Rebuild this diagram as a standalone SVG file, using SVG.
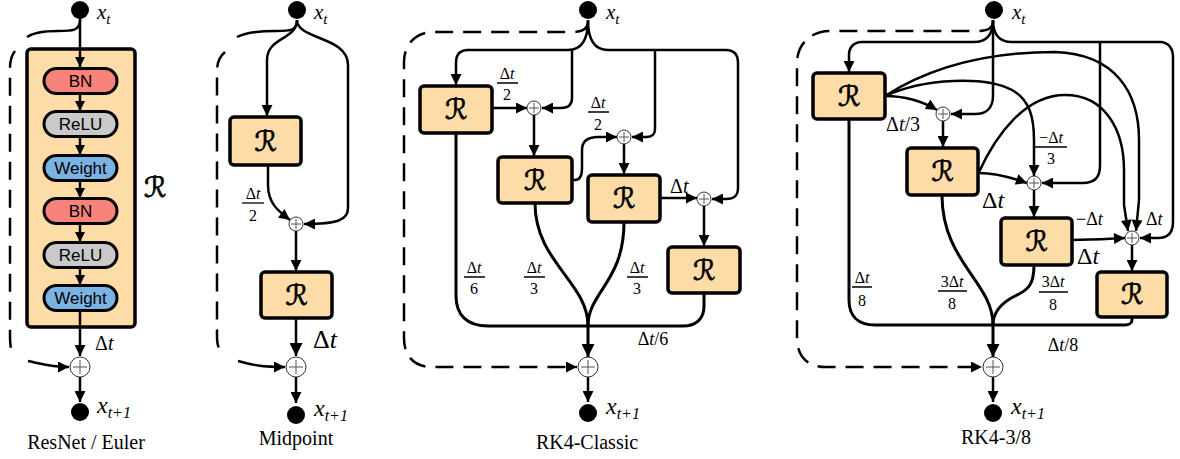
<svg xmlns="http://www.w3.org/2000/svg" width="1180" height="459" viewBox="0 0 1180 459">
<defs>
<marker id="a" viewBox="0 0 10 10" refX="10" refY="5" markerUnits="userSpaceOnUse" markerWidth="13" markerHeight="11" orient="auto"><path d="M0,0L10,5L0,10z" fill="#000"/></marker>
<marker id="ab" viewBox="0 0 10 10" refX="10" refY="5" markerUnits="userSpaceOnUse" markerWidth="16" markerHeight="13" orient="auto"><path d="M0,0L10,5L0,10z" fill="#000"/></marker>
<marker id="as" viewBox="0 0 10 10" refX="10" refY="5" markerUnits="userSpaceOnUse" markerWidth="11" markerHeight="10" orient="auto"><path d="M0,0L10,5L0,10z" fill="#000"/></marker>
</defs>
<style>
.c{fill:none;stroke:#000;stroke-width:2.5}
.t{fill:none;stroke:#000;stroke-width:3}
.d{fill:none;stroke:#000;stroke-width:2.5;stroke-dasharray:18 10}
.box{fill:#FDDCA8;stroke:#000;stroke-width:3.5}
.pill{stroke:#000;stroke-width:3}
.bn{fill:#F8837A}
.relu{fill:#C9C9C9}
.wt{fill:#7AB3E3}
.pl{fill:#fff;stroke:#333;stroke-width:1}
.pp{stroke:#555;stroke-width:1}
.dot{fill:#000}
.s{font-family:"Liberation Sans",Arial,sans-serif;font-size:17px;text-anchor:middle}
.m{font-family:"Liberation Serif","Times New Roman",serif;fill:#000}
.i{font-style:italic}
.cal{font-family:"DejaVu Sans",serif;font-size:28px;text-anchor:middle;stroke:#000;stroke-width:0.7}
.ttl{font-family:"Liberation Serif","Times New Roman",serif;font-size:20px;text-anchor:middle}
</style>

<!-- ================= Panel 1: ResNet / Euler ================= -->
<g id="p1-R">
<rect class="box" x="27" y="49" width="108" height="278" rx="4"/>
</g>
<g id="p1-connectors">
<path class="c" d="M80,20 C80,31 72,31 58,31 C42,31 33,33 27,37"/>
<path class="d" d="M15,51 C11,56 10,60 10,68 V335 C10,346 11,351 14,356"/>
<path class="c" d="M28,361 C42,364 52,367 69,367" marker-end="url(#a)"/>
<path class="c" d="M80,18 V67" marker-end="url(#as)"/>
<path class="c" d="M80,93 V111" marker-end="url(#as)"/>
<path class="c" d="M80,136 V155" marker-end="url(#as)"/>
<path class="c" d="M80,180 V198" marker-end="url(#as)"/>
<path class="c" d="M80,223 V242" marker-end="url(#as)"/>
<path class="c" d="M80,267 V285" marker-end="url(#as)"/>
<path class="c" d="M80,310 V356" marker-end="url(#a)"/>
<path class="c" d="M80,377 V402" marker-end="url(#a)"/>
</g>
<g id="p1-bn1"><rect class="pill bn" x="44" y="68.5" width="73" height="25" rx="12.5"/><text class="s" x="80.5" y="87">BN</text></g>
<g id="p1-relu1"><rect class="pill relu" x="44" y="111.5" width="73" height="25" rx="12.5"/><text class="s" x="80.5" y="130">ReLU</text></g>
<g id="p1-w1"><rect class="pill wt" x="44" y="155.5" width="73" height="25" rx="12.5"/><text class="s" x="80.5" y="174">Weight</text></g>
<g id="p1-bn2"><rect class="pill bn" x="44" y="198.5" width="73" height="25" rx="12.5"/><text class="s" x="80.5" y="217">BN</text></g>
<g id="p1-relu2"><rect class="pill relu" x="44" y="242.5" width="73" height="25" rx="12.5"/><text class="s" x="80.5" y="261">ReLU</text></g>
<g id="p1-w2"><rect class="pill wt" x="44" y="285.5" width="73" height="25" rx="12.5"/><text class="s" x="80.5" y="304">Weight</text></g>
<g id="p1-in"><circle class="dot" cx="80" cy="10" r="9"/><text class="m i" x="97" y="19" font-size="21">x<tspan font-size="15" dy="5">t</tspan></text></g>
<g id="p1-sum"><circle class="pl" cx="80" cy="367" r="10"/><path class="pp" d="M73,367H87M80,360V374"/></g>
<g id="p1-out"><circle class="dot" cx="80" cy="412" r="9"/><text class="m i" x="97" y="413" font-size="24">x<tspan font-size="16" dy="5">t+1</tspan></text></g>
<text class="cal" x="155" y="197" font-size="30">ℛ</text>
<text class="m" x="95" y="350" font-size="20">Δ<tspan class="i">t</tspan></text>
<text class="ttl" x="86" y="449">ResNet / Euler</text>

<!-- ================= Panel 2: Midpoint ================= -->
<g id="p2-connectors">
<path class="c" d="M297,20 C297,31 290,31 276,31 C256,31 245,33 237,37"/>
<path class="d" d="M225,52 C219,57 217,62 217,72 V335 C217,344 218,348 221,350"/>
<path class="c" d="M238,361 C252,365 262,367 285,367" marker-end="url(#a)"/>
<path class="c" d="M297,20 C297,40 267,37 267,60 V116" marker-end="url(#a)"/>
<path class="c" d="M297,20 C297,40 348,36 348,65 V208 C348,220 338,224 304,224" marker-end="url(#a)"/>
<path class="c" d="M268,165 V185 C268,203 278,211 290,220" marker-end="url(#a)"/>
<path class="c" d="M296,231 V271" marker-end="url(#a)"/>
<path class="c" d="M296,318 V356" marker-end="url(#ab)"/>
<path class="c" d="M296,377 V403" marker-end="url(#a)"/>
</g>
<g id="p2-r1"><rect class="box" x="230" y="117" width="71" height="48" rx="4"/><text class="cal" x="265.5" y="151">ℛ</text></g>
<g id="p2-r2"><rect class="box" x="261" y="272" width="71" height="46" rx="4"/><text class="cal" x="296.5" y="305">ℛ</text></g>
<g id="p2-p1"><circle class="pl" cx="296" cy="224" r="7"/><path class="pp" d="M291,224H301M296,219V229"/></g>
<g id="p2-in"><circle class="dot" cx="297" cy="10" r="9"/><text class="m i" x="314" y="19" font-size="21">x<tspan font-size="15" dy="5">t</tspan></text></g>
<g id="p2-sum"><circle class="pl" cx="296" cy="367" r="10"/><path class="pp" d="M289,367H303M296,360V374"/></g>
<g id="p2-out"><circle class="dot" cx="296" cy="415" r="9"/><text class="m i" x="314" y="416" font-size="24">x<tspan font-size="16" dy="5">t+1</tspan></text></g>
<text class="m" x="253" y="199" font-size="16" text-anchor="middle">Δ<tspan class="i">t</tspan></text>
<path d="M242,203H264" stroke="#000" stroke-width="1.3"/>
<text class="m" x="253" y="221" font-size="16" text-anchor="middle">2</text>
<text class="m" x="313" y="348" font-size="26">Δ<tspan class="i">t</tspan></text>
<text class="ttl" x="296" y="445">Midpoint</text>

<!-- ================= Panel 3: RK4-Classic ================= -->
<g id="p3-connectors">
<path class="d" d="M588,22 C588,29 582,32 572,32 H434 C416,32 404,44 404,62 V338 C404,356 414,367 432,367 H577" marker-end="url(#a)"/>
<path class="c" d="M588,20 C588,42 580,50 568,50 H468 C460,50 456,55 456,63 V85" marker-end="url(#a)"/>
<path class="c" d="M572,50 V98 C572,105 568,108 561,108 H542" marker-end="url(#a)"/>
<path class="c" d="M588,20 C588,42 596,50 608,50 H726 C734,50 738,55 738,63 V188 C738,196 734,199 726,199 H712" marker-end="url(#a)"/>
<path class="c" d="M655,50 V129 C655,134 652,137 647,137 H632" marker-end="url(#a)"/>
<path class="c" d="M492,108 H527" marker-end="url(#a)"/>
<path class="c" d="M534,115 V156" marker-end="url(#a)"/>
<path class="c" d="M572,180 H575 C580,180 582,176 582,168 V150 C582,141 588,137 598,137 H617" marker-end="url(#a)"/>
<path class="c" d="M624,144 V174" marker-end="url(#a)"/>
<path class="c" d="M660,198 H697" marker-end="url(#a)"/>
<path class="c" d="M704,206 V246" marker-end="url(#a)"/>
<path class="t" d="M456,133 V296 C456,315 467,326 488,326 H588"/>
<path class="t" d="M535,203 C535,262 588,282 588,326"/>
<path class="t" d="M624,222 C624,282 588,292 588,326"/>
<path class="t" d="M704,293 V306 C704,319 696,326 683,326 H588"/>
<path class="t" d="M588,324 V357" marker-end="url(#ab)"/>
<path class="c" d="M588,377 V402" marker-end="url(#a)"/>
</g>
<g id="p3-r1"><rect class="box" x="420" y="86" width="72" height="47" rx="4"/><text class="cal" x="456" y="119">ℛ</text></g>
<g id="p3-r2"><rect class="box" x="498" y="157" width="74" height="46" rx="4"/><text class="cal" x="535" y="190">ℛ</text></g>
<g id="p3-r3"><rect class="box" x="588" y="175" width="72" height="47" rx="4"/><text class="cal" x="624" y="208">ℛ</text></g>
<g id="p3-r4"><rect class="box" x="668" y="247" width="72" height="46" rx="4"/><text class="cal" x="704" y="280">ℛ</text></g>
<g id="p3-p1"><circle class="pl" cx="534" cy="108" r="7"/><path class="pp" d="M529,108H539M534,103V113"/></g>
<g id="p3-p2"><circle class="pl" cx="624" cy="137" r="7"/><path class="pp" d="M619,137H629M624,132V142"/></g>
<g id="p3-p3"><circle class="pl" cx="704" cy="199" r="7"/><path class="pp" d="M699,199H709M704,194V204"/></g>
<g id="p3-in"><circle class="dot" cx="588" cy="10" r="9"/><text class="m i" x="606" y="19" font-size="21">x<tspan font-size="15" dy="5">t</tspan></text></g>
<g id="p3-sum"><circle class="pl" cx="588" cy="367" r="10"/><path class="pp" d="M581,367H595M588,360V374"/></g>
<g id="p3-out"><circle class="dot" cx="588" cy="413" r="9"/><text class="m i" x="606" y="414" font-size="24">x<tspan font-size="16" dy="5">t+1</tspan></text></g>
<g class="m" font-size="16" text-anchor="middle">
<text x="507" y="79">Δ<tspan class="i">t</tspan></text><text x="507" y="100">2</text>
<text x="598" y="108">Δ<tspan class="i">t</tspan></text><text x="598" y="130">2</text>
<text x="474" y="273">Δ<tspan class="i">t</tspan></text><text x="474" y="294">6</text>
<text x="534" y="273">Δ<tspan class="i">t</tspan></text><text x="534" y="294">3</text>
<text x="637" y="273">Δ<tspan class="i">t</tspan></text><text x="637" y="294">3</text>
</g>
<path d="M497,83H518M588,112H609M464,277H485M524,277H545M627,277H648" stroke="#000" stroke-width="1.3"/>
<text class="m" x="670" y="193" font-size="20">Δ<tspan class="i">t</tspan></text>
<text class="m" x="653" y="345" font-size="18" text-anchor="middle">Δ<tspan class="i">t</tspan>/6</text>
<text class="ttl" x="587" y="449">RK4-Classic</text>

<!-- ================= Panel 4: RK4-3/8 ================= -->
<g id="p4-connectors">
<path class="d" d="M993,22 C993,28 987,31 978,31 H830 C811,31 797,44 797,63 V338 C797,356 807,367 826,367 H982" marker-end="url(#a)"/>
<path class="c" d="M993,20 C993,36 985,42 974,42 H862 C854,42 849,47 849,55 V72" marker-end="url(#a)"/>
<path class="c" d="M993,20 V96 C993,108 986,114 975,114 H951" marker-end="url(#a)"/>
<path class="c" d="M993,20 C993,36 1001,42 1012,42 H1160 C1168,42 1173,48 1173,57 V222 C1173,233 1168,238 1158,238 H1140" marker-end="url(#a)"/>
<path class="c" d="M1100,42 V166 C1100,178 1094,183 1083,183 H1042" marker-end="url(#a)"/>
<path class="c" d="M885,96 C905,96 922,101 937,110" marker-end="url(#a)"/>
<path class="c" d="M943,121 V147" marker-end="url(#a)"/>
<path class="c" d="M885,96 C925,78 985,76 1012,90 C1030,100 1034,118 1034,140 V176" marker-end="url(#a)"/>
<path class="c" d="M885,96 C935,64 995,52 1055,52 C1115,54 1139,92 1139,140 V200 L1136,231" marker-end="url(#a)"/>
<path class="c" d="M979,172 C996,135 1025,95 1065,95 C1105,95 1124,130 1124,170 V205 L1128,231" marker-end="url(#a)"/>
<path class="c" d="M979,173 C996,173 1010,177 1027,183" marker-end="url(#a)"/>
<path class="c" d="M1034,190 V217" marker-end="url(#a)"/>
<path class="c" d="M1072,240 C1090,240 1105,239 1125,238" marker-end="url(#a)"/>
<path class="c" d="M1132,245 V271" marker-end="url(#a)"/>
<path class="t" d="M849,119 V300 C849,316 858,325 875,325 H993"/>
<path class="t" d="M942,195 C942,262 993,282 993,325"/>
<path class="t" d="M1034,265 C1034,285 1028,290 1015,296 C1001,303 993,313 993,325"/>
<path class="t" d="M1132,317 V320 C1132,323 1129,325 1125,325 H993"/>
<path class="t" d="M993,323 V357" marker-end="url(#ab)"/>
<path class="c" d="M993,377 V402" marker-end="url(#a)"/>
</g>
<g id="p4-r1"><rect class="box" x="813" y="73" width="72" height="46" rx="4"/><text class="cal" x="849" y="106">ℛ</text></g>
<g id="p4-r2"><rect class="box" x="907" y="148" width="71" height="47" rx="4"/><text class="cal" x="942.5" y="181">ℛ</text></g>
<g id="p4-r3"><rect class="box" x="1001" y="218" width="71" height="47" rx="4"/><text class="cal" x="1036.5" y="251">ℛ</text></g>
<g id="p4-r4"><rect class="box" x="1097" y="272" width="70" height="45" rx="4"/><text class="cal" x="1132" y="304">ℛ</text></g>
<g id="p4-p1"><circle class="pl" cx="943" cy="114" r="7"/><path class="pp" d="M938,114H948M943,109V119"/></g>
<g id="p4-p2"><circle class="pl" cx="1034" cy="183" r="7"/><path class="pp" d="M1029,183H1039M1034,178V188"/></g>
<g id="p4-p3"><circle class="pl" cx="1132" cy="238" r="7"/><path class="pp" d="M1127,238H1137M1132,233V243"/></g>
<g id="p4-in"><circle class="dot" cx="994" cy="10" r="9"/><text class="m i" x="1012" y="19" font-size="21">x<tspan font-size="15" dy="5">t</tspan></text></g>
<g id="p4-sum"><circle class="pl" cx="993" cy="367" r="10"/><path class="pp" d="M986,367H1000M993,360V374"/></g>
<g id="p4-out"><circle class="dot" cx="993" cy="413" r="9"/><text class="m i" x="1011" y="414" font-size="24">x<tspan font-size="16" dy="5">t+1</tspan></text></g>
<g class="m" font-size="16" text-anchor="middle">
<text x="1051" y="143">−Δ<tspan class="i">t</tspan></text><text x="1051" y="164">3</text>
<text x="862" y="283">Δ<tspan class="i">t</tspan></text><text x="862" y="306">8</text>
<text x="952" y="287">3Δ<tspan class="i">t</tspan></text><text x="952" y="309">8</text>
<text x="1053" y="287">3Δ<tspan class="i">t</tspan></text><text x="1053" y="310">8</text>
</g>
<path d="M1035,147H1067M852,287H872M938,291H967M1039,292H1068" stroke="#000" stroke-width="1.3"/>
<text class="m" x="886" y="131" font-size="20">Δ<tspan class="i">t</tspan>/3</text>
<text class="m" x="982" y="208" font-size="24">Δ<tspan class="i">t</tspan></text>
<text class="m" x="1076" y="225" font-size="18">−Δ<tspan class="i">t</tspan></text>
<text class="m" x="1146" y="225" font-size="18">Δ<tspan class="i">t</tspan></text>
<text class="m" x="1077" y="264" font-size="24">Δ<tspan class="i">t</tspan></text>
<text class="m" x="1063" y="351" font-size="18" text-anchor="middle">Δ<tspan class="i">t</tspan>/8</text>
<text class="ttl" x="996" y="444">RK4-3/8</text>
</svg>
